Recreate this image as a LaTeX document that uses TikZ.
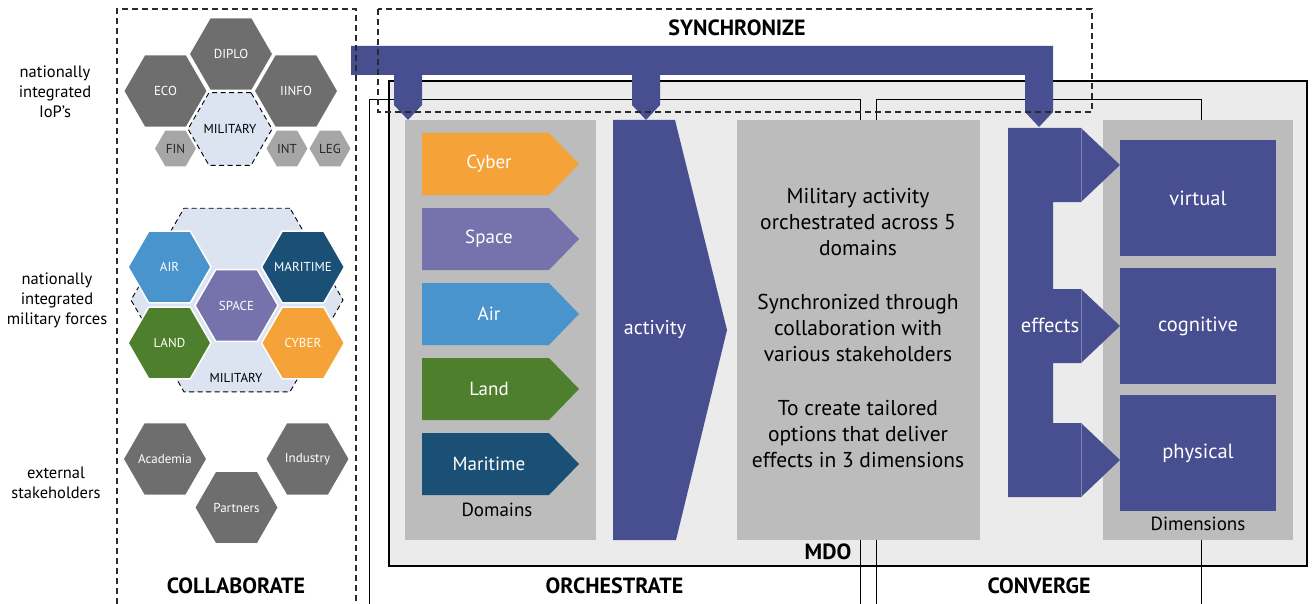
\documentclass[tikz,border=0pt]{standalone}
\usepackage{fontspec}
\setmainfont{PT Sans}
\usetikzlibrary{shapes.geometric}
\definecolor{mdoblue}{HTML}{474F91}
\definecolor{panelgrey}{HTML}{BBBCBB}
\definecolor{mdofill}{HTML}{EBEBEB}
\definecolor{hexdark}{HTML}{6D6E6D}
\definecolor{hexlight}{HTML}{A5A6A5}
\definecolor{milfill}{HTML}{DCE4F2}
\definecolor{cair}{HTML}{4A94CE}
\definecolor{cmar}{HTML}{1B5076}
\definecolor{cspace}{HTML}{7672AC}
\definecolor{cland}{HTML}{4E7F2C}
\definecolor{ccyber}{HTML}{F5A338}
\definecolor{dashgrey}{HTML}{2A2A2A}
\newcommand{\fsz}[2]{\fontsize{#1}{#2}\selectfont}
\begin{document}
\begin{tikzpicture}[x=1pt,y=-1pt,
  hexbase/.style={regular polygon, regular polygon sides=6, inner sep=0pt, outer sep=0pt, draw=white, line width=1.5pt, text=white, font=\fsz{13}{15}},
  hexd/.style={hexbase, fill=hexdark},
  hexl/.style={hexbase, fill=hexlight, text=black!85},
  hexmil/.style={hexbase, fill=milfill, draw=black, dash pattern=on 5pt off 3.5pt, line width=0.9pt, text=black},
  hextext/.style={text=white, font=\fsz{13}{15}, inner sep=0pt},
  domlabel/.style={text=white, font=\fsz{19}{22}},
  dimbox/.style={fill=mdoblue, text=white, font=\fsz{20.5}{24}},
  sidelabel/.style={align=center, font=\fsz{16.5}{20}},
  title/.style={font=\bfseries\fsz{22}{24}},
  paneltext/.style={align=center, font=\fsz{21.5}{26}},
  dashbox/.style={draw=dashgrey, line width=1.1pt, dash pattern=on 6pt off 4pt},
  framebox/.style={draw=black, line width=1pt}
]
\useasboundingbox (0,0) rectangle (1313,604);

% ---------- left labels ----------
\node[sidelabel] (lab1) at (55,92) {nationally\\integrated\\IoP’s};
\node[sidelabel] (lab2) at (57,300) {nationally\\integrated\\military forces};
\node[sidelabel] (lab3) at (56,483) {external\\stakeholders};

% ---------- IoP hexagons ----------
\node[hexd, minimum size=84pt] (diplo) at (231,54) {DIPLO};
\node[hexd, minimum size=84pt] (eco) at (165.5,91) {ECO};
\node[hexd, minimum size=84pt] (iinfo) at (296,91) {IINFO};
\node[hexl, minimum size=43pt] (fin) at (175.5,148.5) {FIN};
\node[hexl, minimum size=43pt] (int) at (287,148.5) {INT};
\node[hexl, minimum size=43pt] (leg) at (330,148.5) {LEG};
\node[hexmil, minimum size=84pt] (milsmall) at (230,129) {};
\node[hextext, text=black] (milsmalltxt) at (milsmall) {MILITARY};

% ---------- military forces ----------
\node[hexmil, minimum size=212pt] (milbig) at (237,300) {};
\node[hexbase, fill=cair, minimum size=83pt] (air) at (169.5,267) {AIR};
\node[hexbase, fill=cmar, minimum size=83pt] (maritime) at (303,267) {};
\node[hextext] (maritimetxt) at (maritime) {MARITIME};
\node[hexbase, fill=cspace, minimum size=83pt] (space) at (236.5,305.5) {SPACE};
\node[hexbase, fill=cland, minimum size=83pt] (land) at (169.5,343) {LAND};
\node[hexbase, fill=ccyber, minimum size=83pt] (cyberhex) at (303,343) {CYBER};
\node[font=\fsz{13}{15}] (millab) at (236,378) {MILITARY};

% ---------- external stakeholders ----------
\node[hexd, minimum size=84pt] (academia) at (165,459) {};
\node[hextext] (academiatxt) at (academia) {Academia};
\node[hexd, minimum size=84pt] (industry) at (307.5,459) {};
\node[hextext] (industrytxt) at (industry) {Industry};
\node[hexd, minimum size=84pt] (partners) at (236.5,507.5) {};
\node[hextext] (partnerstxt) at (partners) {Partners};
\node[title] (collab) at (236,586) {COLLABORATE};

% ---------- MDO frame ----------
\path[framebox, fill=mdofill, line width=1.2pt] (389,81) rectangle (1307,566);
\node[title] (mdo) at (828,552) {MDO};
\draw[framebox] (369,604) -- (369,100) -- (860,100) -- (860,604);
\draw[framebox] (876,604) -- (876,100) -- (1201,100) -- (1201,604);
\node[title] (orch) at (614.5,586) {ORCHESTRATE};
\node[title] (conv) at (1039,586) {CONVERGE};

% ---------- panels ----------
\fill[panelgrey] (405,120) rectangle (596,540);
\fill[panelgrey] (737,120) rectangle (980,540);
\fill[panelgrey] (1103,120) rectangle (1293,540);
\node[font=\fsz{19}{22}] (domains) at (497,510) {Domains};
\node[font=\fsz{19}{22}] (dims) at (1198,524) {Dimensions};

% ---------- domain arrows ----------
\foreach \yy/\col/\txt/\nm in {133/ccyber/Cyber/dcyber, 208/cspace/Space/dspace, 283/cair/Air/dair, 358/cland/Land/dland, 433/cmar/Maritime/dmar}{
  \fill[\col] (422,\yy) -- (549,\yy) -- (579,\yy+31) -- (549,\yy+62) -- (422,\yy+62) -- cycle;
  \node[domlabel] (\nm) at (489,\yy+31) {\txt};
}

% ---------- activity ----------
\fill[mdoblue] (613,120) -- (675,120) -- (727,330) -- (676,540) -- (613,540) -- cycle;
\node[text=white, font=\fsz{20}{23}] (activity) at (655,329) {activity};

% ---------- panel text ----------
\node[paneltext] (t1) at (858,222) {Military activity\\orchestrated across 5\\domains};
\node[paneltext] (t2) at (858,328) {Synchronized through\\collaboration with\\various stakeholders};
\node[paneltext] (t3) at (858,434) {To create tailored\\options that deliver\\effects in 3 dimensions};

% ---------- effects ----------
\fill[mdoblue] (1008,128) -- (1081,128) -- (1120,165) -- (1081,202) -- (1053,202) -- (1053,289)
  -- (1081,289) -- (1120,326) -- (1081,363) -- (1053,363) -- (1053,423) -- (1081,423)
  -- (1120,460) -- (1081,497) -- (1008,497) -- cycle;
\draw[white!30!mdoblue, line width=0.5pt] (1081,128) -- (1081,202) (1081,289) -- (1081,363) (1081,423) -- (1081,497);
\node[text=white, font=\fsz{20.5}{24}] (effects) at (1050,325) {effects};

% ---------- dimensions ----------
\node[dimbox, minimum width=156pt, minimum height=116pt, inner sep=0pt] (virtual) at (1198,198) {virtual};
\node[dimbox, minimum width=156pt, minimum height=116pt, inner sep=0pt] (cognitive) at (1198,326) {cognitive};
\node[dimbox, minimum width=156pt, minimum height=116pt, inner sep=0pt] (physical) at (1198,453) {physical};

% ---------- synchronize bar ----------
\fill[mdoblue] (351,46) -- (1053,46) -- (1053,112) -- (1039,127) -- (1025,112) -- (1025,75)
  -- (660,75) -- (660,105) -- (646,120) -- (632,105) -- (632,75)
  -- (422,75) -- (422,105) -- (408,120) -- (394,105) -- (394,75) -- (351,75) -- cycle;
\node[title] (sync) at (737,28) {SYNCHRONIZE};

% ---------- dashed boxes ----------
\draw[dashbox] (117,604) -- (117,9) -- (356,9) -- (356,604);
\draw[dashbox] (378,9) rectangle (1092,112);
\end{tikzpicture}
\end{document}
